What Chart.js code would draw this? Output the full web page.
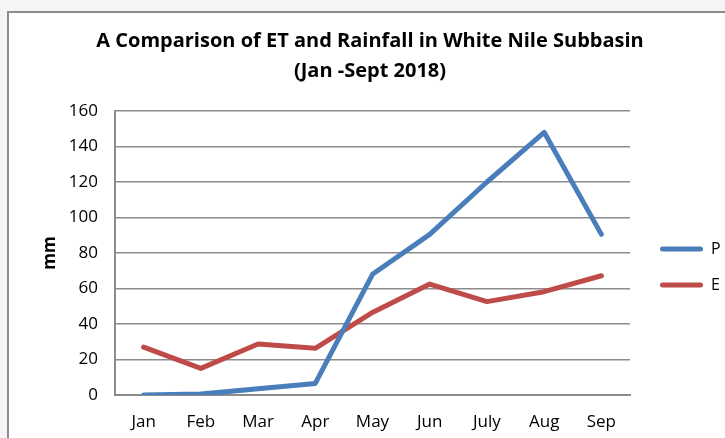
<!DOCTYPE html>
<html>
<head>
<meta charset="utf-8">
<script src="https://cdn.jsdelivr.net/npm/chart.js@4.4.1/dist/chart.umd.min.js"></script>
<style>
  html, body { margin: 0; padding: 0; background: #f4f5f7; overflow: hidden; }
  #frame {
    position: absolute; left: 7px; top: 11px; width: 740px; height: 450px;
    background: #fff; border: 2px solid #8c8c8c; box-sizing: border-box;
  }
  #wrap { position: absolute; left: 0; top: 0; width: 725px; height: 438px; }
</style>
</head>
<body>
<div id="frame"></div>
<div id="wrap"><canvas id="chart" width="725" height="438"></canvas></div>
<script>
const months = ["Jan", "Feb", "Mar", "Apr", "May", "Jun", "July", "Aug", "Sep"];
const rainfallP = [0, 0.5, 3.5, 6.5, 68, 90.5, 120, 148, 90.5];
const etE = [27, 15, 28.7, 26.3, 46.5, 62.5, 52.6, 58.2, 67.2];
const yTicks = [0, 20, 40, 60, 80, 100, 120, 140, 160];

const tickFont = { family: "'Open Sans', sans-serif", size: 17 };
const gridColor = "#8c8c8c";

new Chart(document.getElementById("chart"), {
  type: "line",
  data: {
    labels: months,
    datasets: [
      {
        label: "P",
        data: rainfallP,
        borderColor: "#4a7ebb",
        backgroundColor: "#4a7ebb",
        borderWidth: 5,
        borderJoinStyle: "round",
        borderCapStyle: "round",
        pointRadius: 0,
        tension: 0,
      },
      {
        label: "E",
        data: etE,
        borderColor: "#be4b48",
        backgroundColor: "#be4b48",
        borderWidth: 5,
        borderJoinStyle: "round",
        borderCapStyle: "round",
        pointRadius: 0,
        tension: 0,
      },
    ],
  },
  options: {
    responsive: false,
    animation: false,
    layout: { padding: { left: 15, right: 0, top: 0, bottom: 0 } },
    plugins: {
      title: {
        display: true,
        text: ["A Comparison of ET and Rainfall in White Nile Subbasin", "(Jan -Sept 2018)"],
        color: "#000",
        font: { family: "'Open Sans', sans-serif", size: 20, weight: "bold", lineHeight: 1.5 },
        padding: { top: 26.7, bottom: 24.3 },
      },
      legend: {
        position: "right",
        fullSize: false,
        maxWidth: 85,
        title: {
          display: true,
          text: " ",
          font: { size: 16, lineHeight: 1.2 },
          padding: { top: 0, bottom: 8.8 },
        },
        labels: {
          color: "#000",
          font: { family: "'Open Sans', sans-serif", size: 16 },
          boxWidth: 43,
          boxHeight: 5,
          padding: 20,
          useBorderRadius: true,
          borderRadius: 2.5,
          generateLabels: (chart) =>
            chart.data.datasets.map((ds, i) => ({
              text: ds.label,
              fillStyle: ds.borderColor,
              strokeStyle: ds.borderColor,
              lineWidth: 0,
              fontColor: "#000",
              borderRadius: 2.5,
              datasetIndex: i,
            })),
        },
      },
      tooltip: { enabled: false },
    },
    scales: {
      x: {
        offset: true,
        grid: { display: false, drawTicks: false },
        border: { color: gridColor, width: 2 },
        ticks: { color: "#000", font: tickFont, padding: 17 },
        afterFit: (axis) => { axis.height = 43; },
      },
      y: {
        min: 0,
        max: 160,
        afterBuildTicks: (axis) => { axis.ticks = yTicks.map((v) => ({ value: v })); },
        grid: { color: gridColor, lineWidth: 1.5, drawTicks: false },
        border: { color: gridColor, width: 2 },
        ticks: { color: "#000", font: tickFont, padding: 17 },
        title: {
          display: true,
          text: "mm",
          color: "#000",
          font: { family: "'Open Sans', sans-serif", size: 17, weight: "bold", lineHeight: 1.2 },
          padding: { top: 24.8, bottom: 0 },
        },
        afterFit: (axis) => { axis.width = 100; },
      },
      // empty spacer between the plot and the legend
      gap: {
        position: "right",
        grid: { display: false, drawTicks: false },
        border: { display: false },
        ticks: { display: false },
        afterFit: (axis) => { axis.width = 10; },
      },
    },
  },
});
</script>
</body>
</html>
